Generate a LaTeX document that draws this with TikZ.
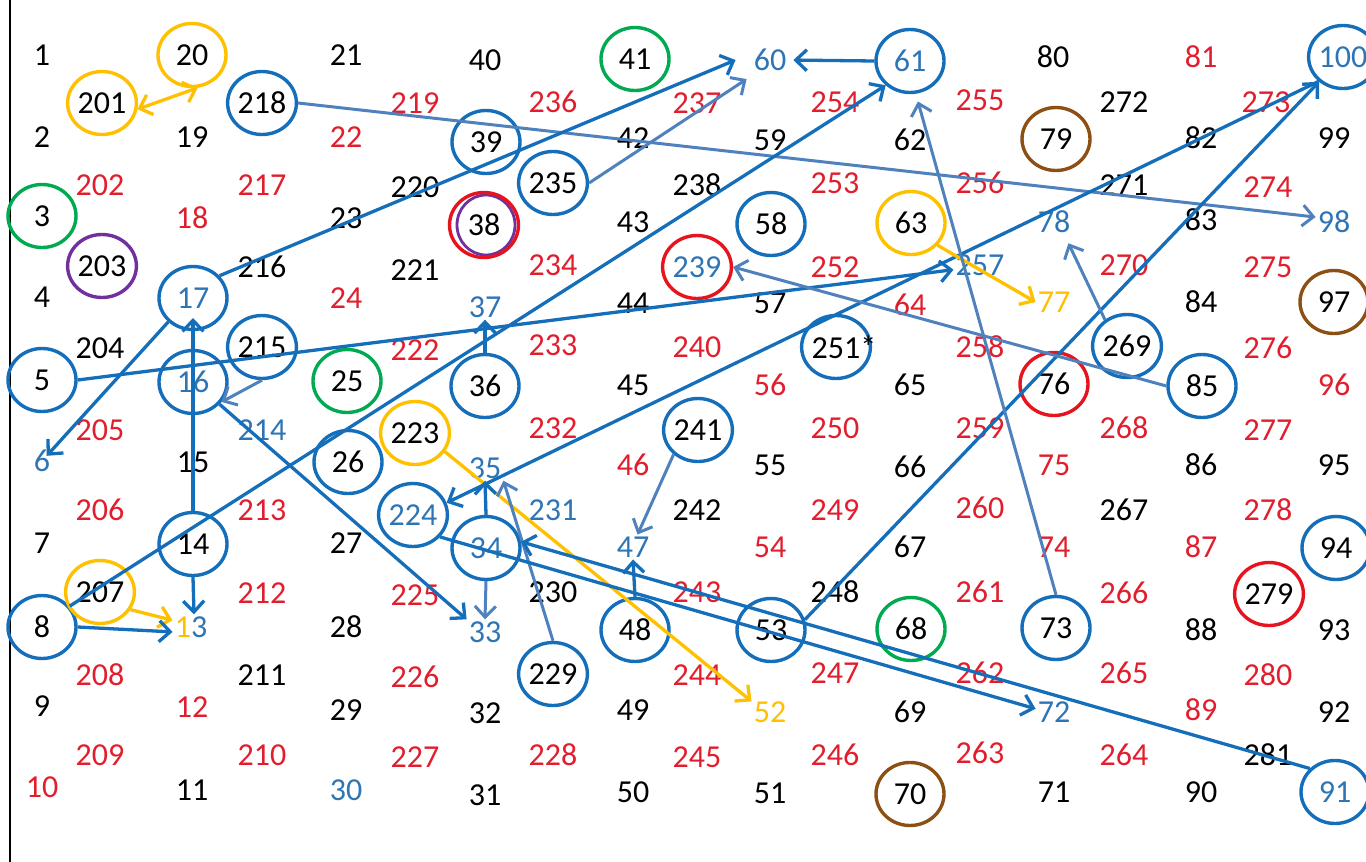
\documentclass[tikz,border=0pt]{standalone}
\usepackage{fontspec}
\setmainfont{Carlito}
\usetikzlibrary{shapes.geometric,arrows.meta}
\definecolor{cblue}{RGB}{20,110,185}
\definecolor{cgrey}{RGB}{79,129,189}
\definecolor{tblue}{RGB}{46,117,182}
\definecolor{cred}{RGB}{225,30,45}
\definecolor{ringred}{RGB}{230,20,30}
\definecolor{cyellow}{RGB}{255,192,0}
\definecolor{cgreen}{RGB}{0,170,80}
\definecolor{cpurple}{RGB}{112,48,160}
\definecolor{cbrown}{RGB}{140,80,20}
\tikzset{
  num/.style={font=\fontsize{32}{38}\selectfont, inner sep=2pt},
  tk/.style={num, text=black},
  tr/.style={num, text=cred},
  tb/.style={num, text=tblue},
  ty/.style={num, text=cyellow},
  ring/.style={ellipse, draw=#1, line width=3.4pt, minimum width=68pt, minimum height=63pt, inner sep=0pt},
  blu/.style={draw=cblue, line width=3.3pt},
  gry/.style={draw=cgrey, line width=3pt},
  ylw/.style={draw=cyellow, line width=3.3pt},
}
\begin{document}
\begin{tikzpicture}[x=1pt,y=-1pt, >={Straight Barb[length=11pt,width=21pt]}]
\useasboundingbox (0,0) rectangle (1366,862);
\draw[line width=2.5pt] (10,0) -- (10,862);
% column A
\node[tk] (n1) at (42,55) {1};
\node[tk] (n2) at (42,137) {2};
\node[tk, ring=cgreen] (n3) at (42,216) {3};
\node[tk] (n4) at (42,297) {4};
\node[tk, ring=cblue] (n5) at (42,380) {5};
\node[tb] (n6) at (42,461) {6};
\node[tk] (n7) at (42,543) {7};
\node[tk, ring=cblue] (n8) at (42,627) {8};
\node[tk] (n9) at (42,706) {9};
\node[tr] (n10) at (42,787) {10};
% column B
\node[tk, ring=cyellow] (n201) at (102,103) {201};
\node[tr] (n202) at (100,185) {202};
\node[tk, ring=cpurple] (n203) at (102,266) {203};
\node[tk] (n204) at (100,348) {204};
\node[tr] (n205) at (100,430) {205};
\node[tr] (n206) at (100,510) {206};
\node[tk, ring=cyellow] (n207) at (100,592) {207};
\node[tr] (n208) at (100,675) {208};
\node[tr] (n209) at (100,755) {209};
% column C
\node[tk, ring=cyellow] (n20) at (192,55) {20};
\node[tk] (n19) at (192,137) {19};
\node[tr] (n18) at (192,218) {18};
\node[tb, ring=cblue] (n17) at (193,298) {17};
\node[tb, ring=cblue] (n16) at (193,382) {16};
\node[tk] (n15) at (193,462) {15};
\node[tk, ring=cblue] (n14) at (193,544) {14};
\node[num] (n13) at (191,627) {\textcolor{cyellow}{1}\textcolor{tblue}{3}};
\node[tr] (n12) at (192,707) {12};
\node[tk] (n11) at (192,790) {11};
% column D
\node[tk, ring=cblue] (n218) at (262,103) {218};
\node[tr] (n217) at (262,185) {217};
\node[tk] (n216) at (262,267) {216};
\node[tk, ring=cblue] (n215) at (262,347) {215};
\node[tb] (n214) at (262,430) {214};
\node[tr] (n213) at (262,510) {213};
\node[tr] (n212) at (262,593) {212};
\node[tk] (n211) at (262,675) {211};
\node[tr] (n210) at (262,755) {210};
% column E
\node[tk] (n21) at (346,55) {21};
\node[tr] (n22) at (346,137) {22};
\node[tk] (n23) at (346,218) {23};
\node[tr] (n24) at (346,298) {24};
\node[tk, ring=cgreen] (n25) at (347,381) {25};
\node[tk, ring=cblue] (n26) at (348,462) {26};
\node[tk] (n27) at (346,543) {27};
\node[tk] (n28) at (346,627) {28};
\node[tk] (n29) at (346,710) {29};
\node[tb] (n30) at (346,790) {30};
% column F
\node[tr] (n219) at (415,103) {219};
\node[tk] (n220) at (415,187) {220};
\node[tk] (n221) at (415,270) {221};
\node[tr] (n222) at (415,350) {222};
\node[tk, ring=cyellow] (n223) at (415,433) {223};
\node[tb, ring=cblue] (n224) at (413,515) {224};
\node[tr] (n225) at (415,595) {225};
\node[tr] (n226) at (415,677) {226};
\node[tr] (n227) at (415,757) {227};
% column G
\node[tk] (n40) at (485,60) {40};
\node[tk, ring=cblue] (n39) at (486,142) {39};
\node[ring=cpurple, line width=2.8pt, minimum width=58pt, minimum height=60pt] (n38b) at (486,225) {};
\node[tk, ring=ringred, minimum width=69pt, minimum height=65pt] (n38) at (484,225) {38};
\node[tb] (n37) at (485,307) {37};
\node[tk, ring=cblue] (n36) at (485,386) {36};
\node[tb] (n35) at (485,468) {35};
\node[tb, ring=cblue] (n34) at (486,548) {34};
\node[tb] (n33) at (485,632) {33};
\node[tk] (n32) at (485,713) {32};
\node[tk] (n31) at (485,795) {31};
% column H
\node[tr] (n236) at (553,102) {236};
\node[tk, ring=cblue] (n235) at (553,183) {235};
\node[tr] (n234) at (553,265) {234};
\node[tr] (n233) at (553,345) {233};
\node[tr] (n232) at (553,428) {232};
\node[tb] (n231) at (553,510) {231};
\node[tk] (n230) at (553,592) {230};
\node[tk, ring=cblue] (n229) at (553,674) {229};
\node[tr] (n228) at (553,755) {228};
% column I
\node[tk, ring=cgreen] (n41) at (635,59) {41};
\node[tk] (n42) at (633,138) {42};
\node[tk] (n43) at (633,222) {43};
\node[tk] (n44) at (633,303) {44};
\node[tk] (n45) at (633,385) {45};
\node[tr] (n46) at (633,465) {46};
\node[tb] (n47) at (633,547) {47};
\node[tk, ring=cblue] (n48) at (635,630) {48};
\node[tk] (n49) at (633,710) {49};
\node[tk] (n50) at (633,792) {50};
% column J
\node[tr] (n237) at (697,103) {237};
\node[tk] (n238) at (697,185) {238};
\node[tb, ring=ringred] (n239) at (697,267) {239};
\node[tr] (n240) at (697,347) {240};
\node[tk, ring=cblue] (n241) at (698,430) {241};
\node[tk] (n242) at (697,510) {242};
\node[tr] (n243) at (697,592) {243};
\node[tr] (n244) at (697,675) {244};
\node[tr] (n245) at (697,757) {245};
% column K
\node[tb] (n60) at (770,60) {60};
\node[tk] (n59) at (770,140) {59};
\node[tk, ring=cblue] (n58) at (771,224) {58};
\node[tk] (n57) at (770,303) {57};
\node[tr] (n56) at (770,385) {56};
\node[tk] (n55) at (770,465) {55};
\node[tr] (n54) at (770,547) {54};
\node[tk, ring=cblue] (n53) at (771,630) {53};
\node[ty] (n52) at (770,712) {52};
\node[tk] (n51) at (770,793) {51};
% column L
\node[tr] (n254) at (835,102) {254};
\node[tr] (n253) at (835,183) {253};
\node[tr] (n252) at (835,267) {252};
\node[tk, ring=cblue] (n251) at (836,347) {251\rlap{*}};
\node[tr] (n250) at (835,428) {250};
\node[tr] (n249) at (835,510) {249};
\node[tk] (n248) at (835,592) {248};
\node[tr] (n247) at (835,673) {247};
\node[tr] (n246) at (835,755) {246};
% column M
\node[tb, ring=cblue] (n61) at (910,61) {61};
\node[tk] (n62) at (910,140) {62};
\node[tk, ring=cyellow] (n63) at (911,223) {63};
\node[tr] (n64) at (910,305) {64};
\node[tk] (n65) at (910,385) {65};
\node[tk] (n66) at (910,467) {66};
\node[tk] (n67) at (910,547) {67};
\node[tk, ring=cgreen] (n68) at (911,629) {68};
\node[tk] (n69) at (910,712) {69};
\node[tk, ring=cbrown] (n70) at (910,794) {70};
% column N
\node[tr] (n255) at (980,100) {255};
\node[tr] (n256) at (980,183) {256};
\node[tb] (n257) at (980,265) {257};
\node[tr] (n258) at (980,347) {258};
\node[tr] (n259) at (980,428) {259};
\node[tr] (n260) at (980,508) {260};
\node[tr] (n261) at (980,592) {261};
\node[tr] (n262) at (980,673) {262};
\node[tr] (n263) at (980,753) {263};
% column O
\node[tk] (n80) at (1053,57) {80};
\node[tk, ring=cbrown] (n79) at (1056,139) {79};
\node[tb] (n78) at (1054,222) {78};
\node[ty] (n77) at (1054,302) {77};
\node[tk, ring=ringred] (n76) at (1054,384) {76};
\node[tr] (n75) at (1054,465) {75};
\node[tr] (n74) at (1054,547) {74};
\node[tk, ring=cblue] (n73) at (1056,628) {73};
\node[tb] (n72) at (1054,712) {72};
\node[tk] (n71) at (1054,792) {71};
% column P
\node[tk] (n272) at (1124,102) {272};
\node[tk] (n271) at (1124,185) {271};
\node[tr] (n270) at (1124,265) {270};
\node[tk, ring=cblue] (n269) at (1127,346) {269};
\node[tr] (n268) at (1124,428) {268};
\node[tk] (n267) at (1124,510) {267};
\node[tr] (n266) at (1124,593) {266};
\node[tr] (n265) at (1124,673) {265};
\node[tr] (n264) at (1124,755) {264};
% column Q
\node[tr] (n81) at (1201,57) {81};
\node[tk] (n82) at (1201,138) {82};
\node[tk] (n83) at (1201,220) {83};
\node[tk] (n84) at (1201,302) {84};
\node[tk, ring=cblue] (n85) at (1202,386) {85};
\node[tk] (n86) at (1201,465) {86};
\node[tr] (n87) at (1201,547) {87};
\node[tk] (n88) at (1201,630) {88};
\node[tr] (n89) at (1201,710) {89};
\node[tk] (n90) at (1201,792) {90};
% column R
\node[tr] (n273) at (1266,102) {273};
\node[tr] (n274) at (1268,187) {274};
\node[tr] (n275) at (1268,267) {275};
\node[tr] (n276) at (1268,348) {276};
\node[tr] (n277) at (1268,430) {277};
\node[tr] (n278) at (1268,510) {278};
\node[tk, ring=ringred] (n279) at (1269,594) {279};
\node[tr] (n280) at (1268,675) {280};
\node[tk] (n281) at (1268,755) {281};
% column S
\node[tb, ring=cblue] (n100) at (1343,57) {100};
\node[tk] (n99) at (1334,138) {99};
\node[tb] (n98) at (1334,222) {98};
\node[tk, ring=cbrown] (n97) at (1334,302) {97};
\node[tr] (n96) at (1334,385) {96};
\node[tk] (n95) at (1334,465) {95};
\node[tk, ring=cblue] (n94) at (1336,548) {94};
\node[tk] (n93) at (1334,630) {93};
\node[tk] (n92) at (1334,712) {92};
\node[tb, ring=cblue] (n91) at (1335,792) {91};
% connectors
\draw[ylw,<->] (n201.-10) -- (n20.-80);
\draw[gry,->] (n218.east) -- (n98.165);
\draw[blu,->] (n17.40) -- ([shift={(-16,0)}]n60.west);
\draw[gry,->] (n235.east) -- ([shift={(-5,6)}]n60.south west);
\draw[blu,->,shorten >=5pt] (n61.west) -- (n60.east);
\draw[blu,->] (n8.37) -- (n61.225);
\draw[blu,->] (n5.east) -- (n257.190);
\draw[blu,->,shorten >=7pt] (n17.224) -- (n6.center);
\draw[blu,->,shorten >=20pt] (n14.north) -- (n17.center);
\draw[gry,->] (n215.south) -- (n16.-35);
\draw[blu,->] (n16.-40) -- (n33.north west);
\draw[blu,->] (n14.south) -- ([shift={(3,0)}]n13.north);
\draw[ylw,->] (n207.-30) -- (n13.160);
\draw[blu,->] (n8.east) -- (n13.195);
\draw[blu,->] (n36.north) -- (n37.south);
\draw[blu,->] (n100.225) -- (n224.20);
\draw[blu,->] (n53.17) -- (n100.226);
\draw[ylw,->] (n63.-40) -- (n77.west);
\draw[gry,->,shorten >=8pt] (n73.north) -- (n61.-80);
\draw[gry,->] (n85.west) -- (n239.east);
\draw[gry,->] (n269.130) -- ([shift={(-4,8)}]n78.south east);
\draw[gry,->] (n241.225) -- (n47.70);
\draw[ylw,->] (n223.-32) -- (n52.150);
\draw[blu,->] (n34.north) -- (n35.south);
\draw[gry,->] (n229.north) -- (n35.south east);
\draw[gry,->] (n34.south) -- (n33.north);
\draw[blu,->] (n48.north) -- (n47.south);
\draw[blu,->] (n91.137) -- (n34.10);
\draw[blu,->] (n224.-39) -- (n72.170);
\end{tikzpicture}
\end{document}
